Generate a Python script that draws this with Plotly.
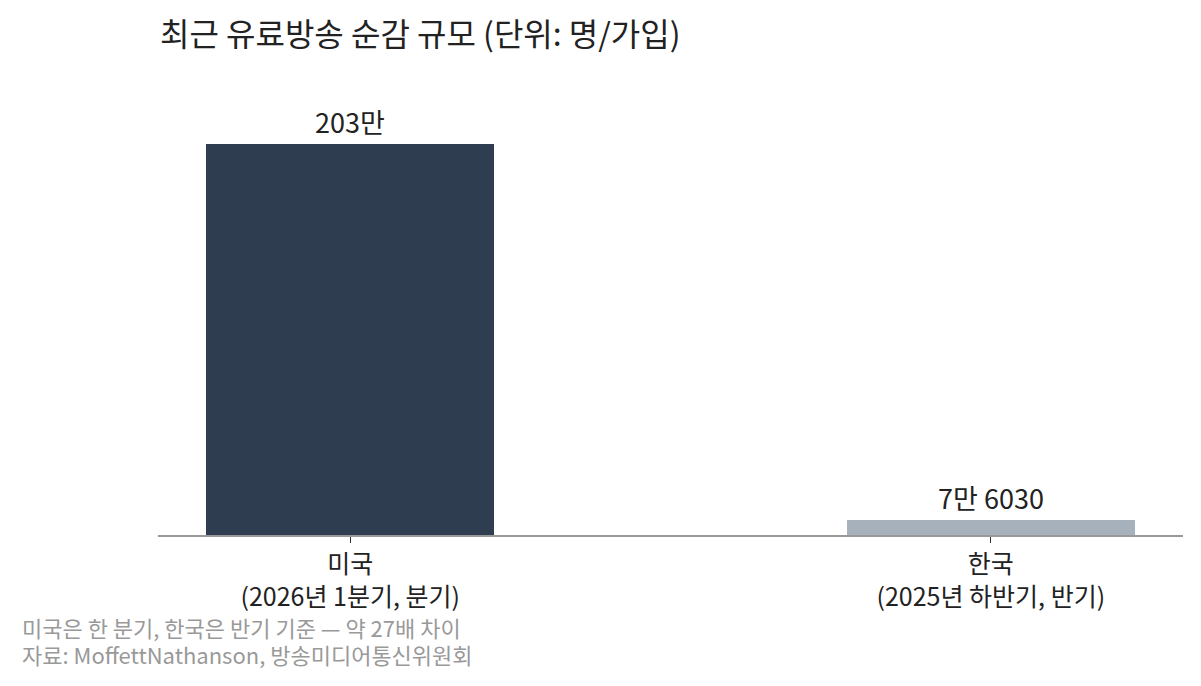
import plotly.graph_objects as go

categories = ["미국<br>(2026년 1분기, 분기)", "한국<br>(2025년 하반기, 반기)"]
values = [2030000, 76030]
labels = ["203만", "7만 6030"]
colors = ["#2e3d4f", "#a6b1bc"]
notes = ["미국은 한 분기, 한국은 반기 기준 — 약 27배 차이",
         "자료: MoffettNathanson, 방송미디어통신위원회"]

font = "Noto Sans CJK KR"

fig = go.Figure()
fig.add_trace(go.Bar(
    x=[0, 1],
    y=values,
    width=0.45,
    marker=dict(color=colors, line=dict(width=0)),
    text=labels,
    textposition="outside",
    textfont=dict(size=27, color="#222222", family=font),
    cliponaxis=False,
    hoverinfo="skip",
))

fig.update_layout(
    width=1201, height=686,
    margin=dict(l=150, r=26, t=77, b=159),
    paper_bgcolor="white", plot_bgcolor="white",
    showlegend=False,
    font=dict(family=font, color="#222222"),
    title=dict(text="최근 유료방송 순감 규모 (단위: 명/가입)", x=152 / 1201, xanchor="left",
               y=1 - 27 / 686, yanchor="middle",
               font=dict(size=32, color="#222222", family=font)),
    xaxis=dict(
        tickmode="array", tickvals=[0, 1], ticktext=categories,
        range=[-0.3, 1.3],
        showline=True, linecolor="#999999", linewidth=2,
        ticks="outside", ticklen=6, tickcolor="#333333",
        tickfont=dict(size=25, color="#222222", family=font),
        showgrid=False, zeroline=False,
    ),
    yaxis=dict(
        range=[0, 2030000 * 1.15],
        visible=False, showgrid=False, zeroline=False,
    ),
    bargap=0,
)

# footnote lines, placed one by one
for i, note in enumerate(notes):
    fig.add_annotation(
        text=note,
        xref="paper", yref="paper",
        x=-138 / 1025, y=-(619 + 27 * i - 527) / 450,
        xanchor="left", yanchor="middle",
        align="left", showarrow=False,
        font=dict(size=22, color="#999999", family=font),
    )

fig.write_html("out.html")
